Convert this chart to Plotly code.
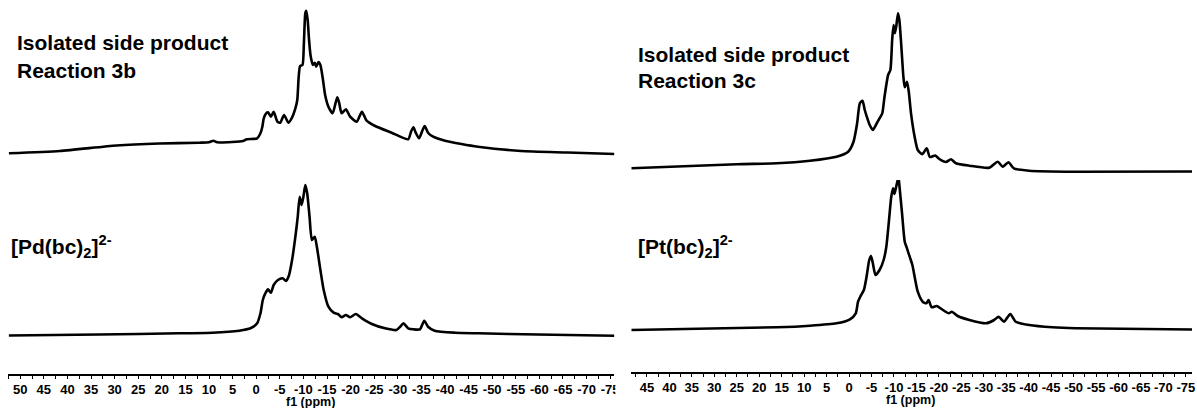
import plotly.graph_objects as go

# ---------------- data ----------------
# Left panel, top: isolated side product, reaction 3b
TL_ppm = [52.4, 41.6, 29.6, 20.5, 12.1, 10.0, 9.1, 8.3, 5.1, 2.8, 2.0, -0.2, -0.9, -1.3, -1.6,
          -2.1, -2.5, -3.1, -3.7, -4.5, -5.1, -5.9, -6.8, -7.5, -8.3, -8.7, -9.0, -9.3, -9.8, -10.1,
          -10.4, -10.6, -10.9, -11.2, -11.5, -12.0, -12.4, -12.7, -13.2, -13.6, -14.1, -14.6, -15.3,
          -16.2, -16.8, -17.2, -17.6, -18.1, -19.0, -19.9, -21.3, -22.4, -23.4, -25.2, -28.7, -32.2,
          -32.8, -33.3, -33.8, -34.5, -35.2, -35.7, -36.4, -37.5, -40.0, -43.5, -47.0, -56.1, -66.0, -75.9]
TL_int = [2.7, 5, 10.5, 12.5, 13.3, 13.7, 15.3, 13.7, 14, 15, 16.7, 17.7, 22.7, 29.3, 37.7,
          42.7, 43.7, 39.3, 44.3, 34.3, 33.3, 41, 33.3, 37.7, 47.7, 56, 79.3, 90, 91, 112.7,
          142.7, 145.3, 136, 116, 101, 91, 93.3, 89.3, 94, 91, 77.7, 61, 49.3,
          42.7, 52.7, 58.7, 52.7, 42.7, 46.7, 39.3, 34.3, 44.3, 35.3, 30, 23.3, 16.7,
          24.3, 28.7, 23.3, 17.7, 25.3, 30, 23.3, 19.3, 15.3, 12, 9.3, 5, 3.5, 2]

# Left panel, bottom: [Pd(bc)2]2-
BL_ppm = [52.4, 33.2, 16.3, 9.3, 3.6, 1.2, -0.2, -0.9, -1.4, -2.0, -2.5, -3.1, -3.7, -4.6, -5.6,
          -6.3, -6.9, -7.6, -8.3, -8.8, -9.2, -9.6, -10.0, -10.4, -10.8, -11.3, -11.8, -12.4, -12.9,
          -13.6, -14.3, -15.3, -16.4, -17.3, -18.1, -19.0, -19.9, -21.1, -22.4, -24.5, -27.3, -29.7,
          -30.5, -31.2, -32.2, -33.3, -34.7, -35.6, -36.4, -37.8, -42.1, -47.0, -59.6, -75.9]
BL_int = [0.5, 1.5, 2.7, 3.3, 5.3, 7.7, 12.7, 22.7, 36, 43.3, 46.7, 43.3, 51, 56, 57.7,
          55, 60, 76, 99.3, 119.3, 139.3, 131, 139.3, 151, 142.7, 119.3, 96, 99.3, 87.7,
          66, 46, 29.3, 23.3, 22, 18.7, 21, 18.7, 22, 17.7, 12, 7.7, 6,
          9.3, 12.7, 7.7, 6.7, 6.7, 15.3, 9.3, 5.3, 3.3, 2.7, 1.5, 0.3]

# Right panel, top: isolated side product, reaction 3c
TR_ppm = [48.5, 25.0, 16.1, 8.7, 2.8, 0.2, -1.0, -1.8, -2.4, -3.0, -3.5, -4.0, -4.6, -5.3, -6.1,
          -6.8, -7.4, -7.9, -8.7, -9.2, -9.6, -9.9, -10.2, -10.5, -10.9, -11.2, -11.6, -12.1, -12.4,
          -12.9, -13.3, -13.8, -14.6, -15.3, -16.3, -17.3, -18.0, -19.2, -20.1, -21.6, -22.7, -23.8,
          -26.8, -31.2, -33.1, -34.2, -35.5, -36.7, -40.1, -50.4, -76.4]
TR_int = [6.7, 10.7, 11.7, 14.3, 18.3, 23.3, 33.3, 51.7, 71.7, 74.3, 65, 57.7, 50, 45, 51,
          56.7, 61.7, 78.3, 100, 105, 135, 150, 141.7, 148.3, 161.7, 155, 131.7, 98.3, 87.7,
          93.3, 83.3, 61.7, 38.3, 25, 20.7, 26.7, 18, 19.5, 16, 13, 15.7, 11.7,
          9.3, 7.3, 13.3, 8.3, 12.7, 6.7, 4.3, 3.3, 3.5]

# Right panel, bottom: [Pt(bc)2]2-
BR_ppm = [48.5, 16.1, 8.7, 2.8, -0.2, -1.5, -2.0, -2.5, -3.3, -3.9, -4.5, -4.9, -5.3, -5.9, -6.8,
          -7.7, -8.3, -8.9, -9.4, -9.8, -10.1, -10.5, -11.0, -11.2, -11.8, -12.4, -12.9, -13.5, -14.1,
          -14.6, -15.3, -16.4, -17.2, -17.7, -18.4, -19.5, -20.9, -22.2, -22.9, -24.2, -26.8, -30.5,
          -32.3, -33.3, -34.5, -35.9, -37.1, -40.1, -45.3, -50.4, -76.4]
BR_int = [3, 5.7, 7.3, 9.7, 13.7, 19.7, 31.3, 36.3, 43, 56.3, 73, 77, 69.7, 58, 63,
          73, 86.3, 113, 136.3, 144.7, 139, 146.3, 155.7, 148, 119.7, 91.3, 84.7, 76.3, 68,
          56.3, 41.3, 31.3, 29.7, 33, 25.7, 27, 23, 19.7, 21.3, 17, 13, 9.7,
          13, 16.3, 11.3, 19, 11.3, 8, 5.7, 4.7, 3.5]

LEFT_TICKS = list(range(50, -80, -5))
RIGHT_TICKS = list(range(45, -80, -5))

# ---------------- layout helpers ----------------
W, H = 1197, 408
FONT = "Liberation Sans, Arial, sans-serif"


def py(p):
    return 1 - p / H


def yax(top_px, bottom_px, ref, anchor):
    return dict(domain=[py(bottom_px), py(top_px)], range=[ref - bottom_px, ref - top_px],
                visible=False, anchor=anchor, fixedrange=True)


tick_font = dict(family=FONT, size=13, color="black", weight="bold")
title_font = dict(family=FONT, size=12.5, color="black", weight="bold")


def xax(x0_px, x1_px, r0, r1, line_px, ticks):
    return dict(domain=[x0_px / W, x1_px / W], range=[r0, r1], anchor="free",
                position=py(line_px), showline=True, linecolor="black", linewidth=1.5,
                ticks="outside", ticklen=3, tickwidth=1, tickcolor="black",
                tickvals=ticks, ticktext=[str(t) for t in ticks], ticklabelstandoff=0,
                minor=dict(dtick=2.5, tick0=0, ticks="outside", ticklen=3, tickwidth=1,
                           tickcolor="black"),
                tickfont=tick_font, showgrid=False, zeroline=False, fixedrange=True)


line = dict(color="black", width=2.6, shape="spline", smoothing=0.6)

fig = go.Figure()
fig.add_trace(go.Scatter(x=TL_ppm, y=TL_int, xaxis="x", yaxis="y", mode="lines", line=line))
fig.add_trace(go.Scatter(x=BL_ppm, y=BL_int, xaxis="x", yaxis="y2", mode="lines", line=line))
fig.add_trace(go.Scatter(x=TR_ppm, y=TR_int, xaxis="x2", yaxis="y3", mode="lines", line=line))
fig.add_trace(go.Scatter(x=BR_ppm, y=BR_int, xaxis="x2", yaxis="y4", mode="lines", line=line))

lab_font = dict(family=FONT, size=21, color="black", weight="bold")


def label(text, x_px, y_px, font=lab_font, anchor="left"):
    return dict(text=text, xref="paper", yref="paper", x=x_px / W, y=py(y_px),
                xanchor=anchor, yanchor="middle", showarrow=False, font=font, borderpad=0)


fig.update_layout(
    width=W, height=H, margin=dict(l=0, r=0, t=0, b=0),
    paper_bgcolor="white", plot_bgcolor="white", showlegend=False,
    xaxis=xax(8, 617, 52.6, -75.9, 375, LEFT_TICKS),
    xaxis2=xax(634, 1197, 48.47, -76.36, 373, RIGHT_TICKS),
    yaxis=yax(0, 165, 156, "x"),
    yaxis2=yax(170, 345, 336, "x"),
    yaxis3=yax(0, 178, 175, "x2"),
    yaxis4=yax(180, 345, 333, "x2"),
    annotations=[
        label("Isolated side product", 16, 43),
        label("Reaction 3b", 16, 70),
        label("[Pd(bc)<sub>2</sub>]<sup>2-</sup>", 10, 246),
        label("Isolated side product", 640, 55),
        label("Reaction 3c", 640, 81),
        label("[Pt(bc)<sub>2</sub>]<sup>2-</sup>", 640, 247),
        label("f1 (ppm)", 312, 401.5, title_font, "center"),
        label("f1 (ppm)", 914, 400, title_font, "center"),
    ],
    shapes=[dict(type="rect", xref="paper", yref="paper", x0=618 / W, x1=633 / W,
                 y0=0, y1=py(377), fillcolor="white", line=dict(width=0), layer="above")],
)

fig.write_html("out.html", config={"displayModeBar": False},
               post_script="document.body.style.margin='0px';"
                           "document.body.style.overflow='hidden';")
